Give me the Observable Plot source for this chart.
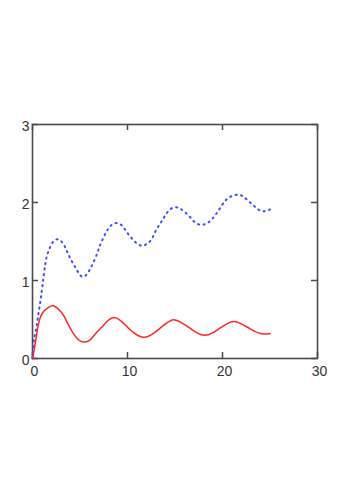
<!DOCTYPE html>
<html>
<head>
<meta charset="utf-8">
<script src="https://cdn.jsdelivr.net/npm/d3@7"></script>
<script src="https://cdn.jsdelivr.net/npm/@observablehq/plot@0.6"></script>
<style>
  html, body { margin: 0; padding: 0; background: #fff; }
  #chart svg { display: block; }
</style>
</head>
<body>
<div id="chart"></div>
<script>
// Tick values
const xTicks = [0, 10, 20, 30];
const yTicks = [0, 1, 2, 3];

// Red (solid) series
const redX = [0, 0.28, 0.56, 0.8, 1.16, 1.7, 2.2, 2.7, 3.3, 3.8, 4.3, 4.8, 5.5, 6.1, 6.6, 7.3, 8.0, 8.6, 9.3, 10.0, 10.7, 11.7, 12.8, 13.7, 14.5, 15.0, 15.4, 16.5, 17.3, 18.2, 18.9, 19.6, 20.5, 21.2, 22.1, 22.9, 23.8, 24.5, 25];
const redY = [0, 0.17, 0.42, 0.53, 0.61, 0.66, 0.69, 0.64, 0.56, 0.42, 0.32, 0.23, 0.20, 0.23, 0.32, 0.40, 0.50, 0.54, 0.49, 0.40, 0.32, 0.25, 0.32, 0.42, 0.49, 0.50, 0.48, 0.40, 0.32, 0.285, 0.32, 0.38, 0.45, 0.49, 0.44, 0.38, 0.32, 0.31, 0.32];

// Blue (dotted) series
const blueX = [0, 0.1, 0.28, 0.45, 0.56, 0.8, 1.0, 1.16, 1.33, 1.5, 1.76, 2.1, 2.7, 3.3, 3.6, 3.9, 4.3, 4.7, 5.1, 5.6, 6.1, 6.4, 6.8, 7.0, 7.3, 7.7, 8.1, 8.7, 9.4, 9.8, 10.3, 10.8, 11.5, 12.1, 12.6, 12.9, 13.4, 13.8, 14.2, 14.7, 15.4, 15.9, 16.5, 17.0, 17.5, 18.3, 18.8, 19.4, 19.8, 20.3, 20.8, 21.7, 22.2, 22.8, 23.3, 23.8, 24.4, 25];
const blueY = [0, 0.21, 0.32, 0.42, 0.53, 0.70, 0.89, 1.04, 1.21, 1.32, 1.40, 1.50, 1.55, 1.47, 1.38, 1.30, 1.21, 1.13, 1.04, 1.05, 1.15, 1.23, 1.34, 1.42, 1.51, 1.61, 1.69, 1.75, 1.72, 1.64, 1.56, 1.49, 1.43, 1.47, 1.53, 1.63, 1.72, 1.80, 1.88, 1.94, 1.94, 1.89, 1.83, 1.75, 1.71, 1.72, 1.77, 1.86, 1.94, 2.03, 2.08, 2.11, 2.08, 2.01, 1.96, 1.90, 1.88, 1.91];

const red = redX.map((x, i) => ({x, y: redY[i]}));
const blue = blueX.map((x, i) => ({x, y: blueY[i]}));

const W = 346, H = 490, mL = 32, mR = 29, mT = 124, mB = 132;
const innerW = W - mL - mR, innerH = H - mT - mB;
const tick = 6;
const axisColor = "#4a4a4a";
const labelColor = "#333";

const chart = Plot.plot({
  width: W,
  height: H,
  marginLeft: mL,
  marginRight: mR,
  marginTop: mT,
  marginBottom: mB,
  style: {fontFamily: "'Liberation Sans', Arial, sans-serif", background: "#fff"},
  x: {domain: [0, 30], axis: null},
  y: {domain: [0, 3], axis: null},
  marks: [
    // inward ticks on all four sides
    Plot.ruleX(xTicks, {x: d => d, insetTop: innerH - tick, stroke: axisColor, strokeWidth: 1.5}),
    Plot.ruleX(xTicks, {x: d => d, insetBottom: innerH - tick, stroke: axisColor, strokeWidth: 1.5}),
    Plot.ruleY(yTicks, {y: d => d, insetRight: innerW - tick, stroke: axisColor, strokeWidth: 1.5}),
    Plot.ruleY(yTicks, {y: d => d, insetLeft: innerW - tick, stroke: axisColor, strokeWidth: 1.5}),
    // labels
    Plot.axisX(xTicks, {anchor: "bottom", tickSize: 0, tickPadding: 8, dx: 2, label: null, fontSize: 14, fill: labelColor, tickFormat: d3.format("d")}),
    Plot.axisY(yTicks, {anchor: "left", tickSize: 0, tickPadding: 3, dy: 2, label: null, fontSize: 14, fill: labelColor, tickFormat: d3.format("d")}),
    Plot.frame({stroke: axisColor, strokeWidth: 1.6}),
    Plot.line(blue, {x: "x", y: "y", stroke: "#3a4cff", strokeWidth: 2, strokeDasharray: "1.2,4.4", curve: "basis"}),
    Plot.line(red, {x: "x", y: "y", stroke: "#ff2525", strokeWidth: 1.5, curve: "basis"})
  ]
});
document.getElementById("chart").appendChild(chart);
</script>
</body>
</html>
